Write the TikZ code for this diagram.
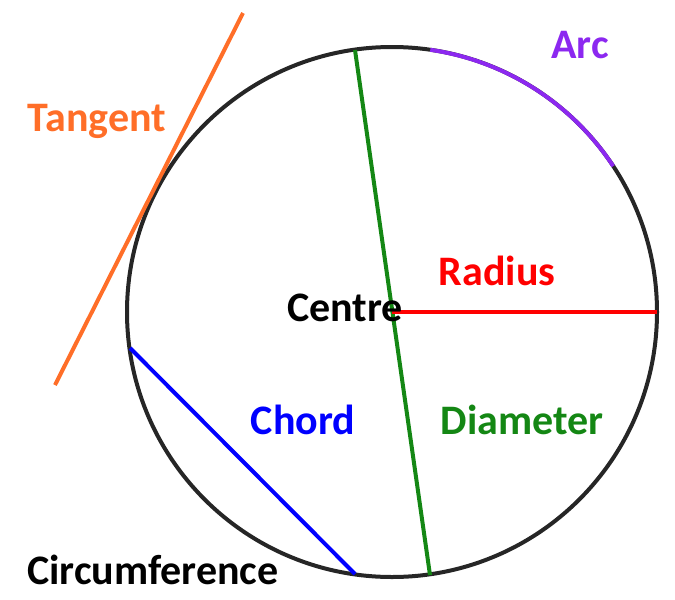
\documentclass[tikz,border=0pt]{standalone}
\usepackage{fontspec}
\setmainfont{Carlito}
\definecolor{arccol}{RGB}{140,40,240}
\definecolor{tancol}{RGB}{255,110,40}
\definecolor{diacol}{RGB}{20,135,20}
\begin{document}
\begin{tikzpicture}[x=1pt,y=-1pt,line width=4pt,
  label text/.style={font=\bfseries\fontsize{42}{48}\selectfont}]
\useasboundingbox (0,0) rectangle (675,600);

\coordinate (c) at (392,312);
\coordinate (r) at (657,312);
\coordinate (d1) at (355,50);
\coordinate (d2) at (430,575);
\coordinate (t1) at (243,13);
\coordinate (t2) at (55,385);
\coordinate (ch1) at (130,348);
\coordinate (ch2) at (355,574);

\draw[black!85] (c) circle (265);
\draw[arccol] ([shift={(-81.7:265)}]c) arc[start angle=-81.7,end angle=-33.4,radius=265];
\draw[tancol] (t1) -- (t2);
\draw[diacol] (d1) -- (d2);
\draw[red] (c) -- (r);
\draw[blue] (ch1) -- (ch2);

\node[label text,text=arccol] (arc) at (580,45) {Arc};
\node[label text,text=tancol] (tangent) at (97,121) {Tangent};
\node[label text,text=red] (radius) at (497,271) {Radius};
\node[label text] (centre) at (345,308) {Centre};
\node[label text,text=blue] (chord) at (303,420) {Chord};
\node[label text,text=diacol] (diameter) at (522,420) {Diameter};
\node[label text] (circum) at (153,570) {Circumference};
\end{tikzpicture}
\end{document}
